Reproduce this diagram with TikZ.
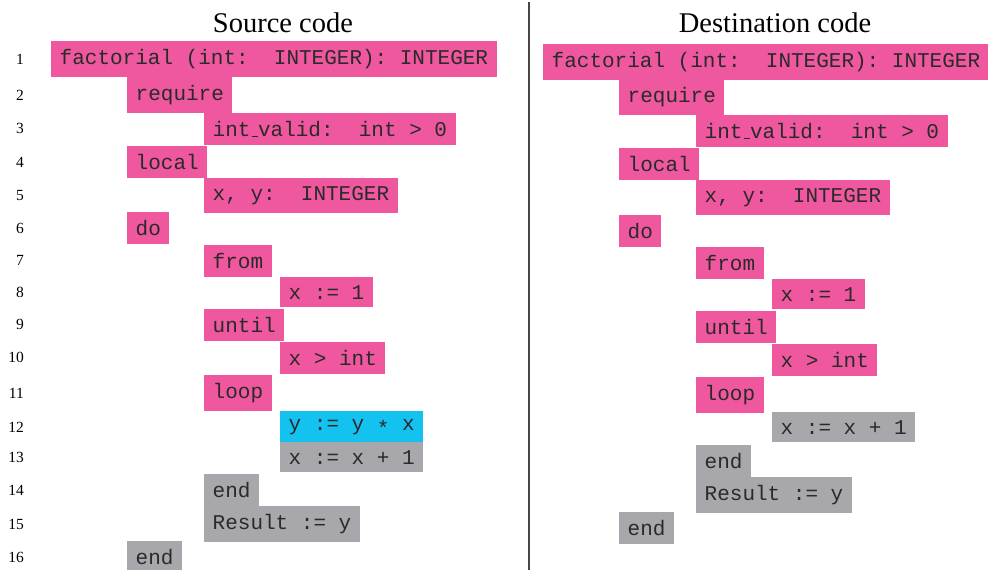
\documentclass[tikz,border=0pt]{standalone}
\usepackage{fontspec}
\setmainfont{Liberation Serif}
\setmonofont{Liberation Mono}
\newcommand\lowbar{\leavevmode\kern.06em\vbox{\hrule width.3em}}
\newcommand\smallstar{\raisebox{-0.45ex}{*}}
\definecolor{kept}{HTML}{EF589F}
\definecolor{moved}{HTML}{14C2F0}
\definecolor{other}{HTML}{A8A8AC}
\definecolor{codeink}{HTML}{2A2A2A}
\tikzset{
  codebox/.style={anchor=north west, font=\fontsize{21}{21}\selectfont\ttfamily,
    text=codeink, inner xsep=8.5pt, inner ysep=8pt},
  keptbox/.style={codebox, fill=kept},
  movedbox/.style={codebox, fill=moved},
  otherbox/.style={codebox, fill=other},
  lineno/.style={anchor=east, font=\fontsize{15.5}{15.5}\selectfont, inner sep=0pt},
  heading/.style={anchor=base, font=\fontsize{28.5}{28.5}\selectfont, inner sep=0pt},
}
\begin{document}
\begin{tikzpicture}[x=1pt, y=-1pt]
\useasboundingbox (0,0) rectangle (988,570);
\clip (0,0) rectangle (988,570);

% column headings and divider
\node[heading] (srchead) at (283,32) {Source code};
\node[heading] (dsthead) at (775,32) {Destination code};
\coordinate (divtop) at (529,2);
\coordinate (divbot) at (529,570);
\draw[line width=1.4pt, draw=black!72] (divtop) -- (divbot);

% source listing: indent levels at x = 51, 127, 204, 280
\node[keptbox] (s1) at (51,41) {factorial~(int:~~INTEGER):~INTEGER};
\node[keptbox] (s2) at (127,77) {require};
\node[keptbox] (s3) at (204,113) {int\lowbar valid:~~int~>~0};
\node[keptbox] (s4) at (127,146) {local};
\node[keptbox] (s5) at (204,178) {x,~y:~~INTEGER};
\node[keptbox] (s6) at (127,212) {do};
\node[keptbox] (s7) at (204,245) {from};
\node[keptbox] (s8) at (280,277) {x~:=~1};
\node[keptbox] (s9) at (204,309) {until};
\node[keptbox] (s10) at (280,342) {x~>~int};
\node[keptbox] (s11) at (204,375) {loop};
\node[movedbox] (s12) at (280,411) {y~:=~y~\smallstar~x};
\node[otherbox] (s13) at (280,442) {x~:=~x~+~1};
\node[otherbox] (s14) at (204,474) {end};
\node[otherbox] (s15) at (204,506) {Result~:=~y};
\node[otherbox] (s16) at (127,541) {end};

% line numbers, one per source line
\foreach \i in {1,...,16}{
  \node[lineno] (n\i) at (24,0 |- s\i.west) {\i};
}

% destination listing: indent levels at x = 543, 619, 696, 772
\node[keptbox] (d1) at (543,44) {factorial~(int:~~INTEGER):~INTEGER};
\node[keptbox] (d2) at (619,79) {require};
\node[keptbox] (d3) at (696,115) {int\lowbar valid:~~int~>~0};
\node[keptbox] (d4) at (619,148) {local};
\node[keptbox] (d5) at (696,180) {x,~y:~~INTEGER};
\node[keptbox] (d6) at (619,215) {do};
\node[keptbox] (d7) at (696,247) {from};
\node[keptbox] (d8) at (772,279) {x~:=~1};
\node[keptbox] (d9) at (696,311) {until};
\node[keptbox] (d10) at (772,344) {x~>~int};
\node[keptbox] (d11) at (696,377) {loop};
\node[otherbox] (d12) at (772,412) {x~:=~x~+~1};
\node[otherbox] (d13) at (696,445) {end};
\node[otherbox] (d14) at (696,477) {Result~:=~y};
\node[otherbox] (d15) at (619,512) {end};
\end{tikzpicture}
\end{document}
